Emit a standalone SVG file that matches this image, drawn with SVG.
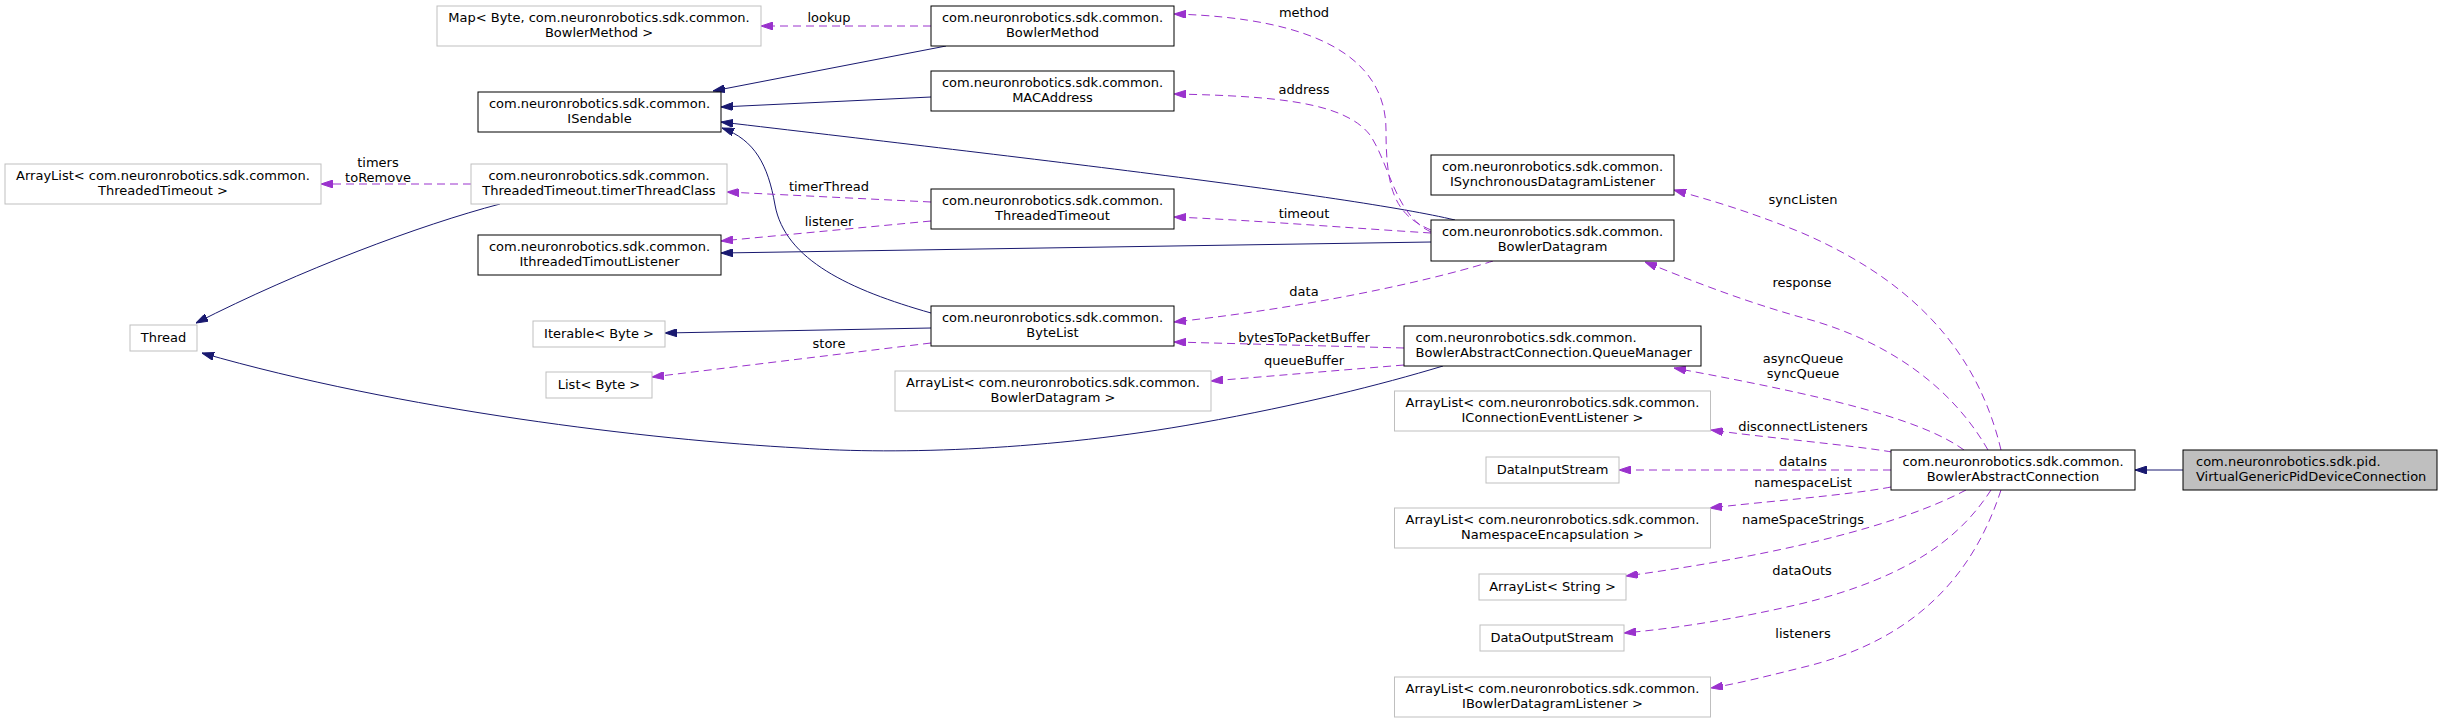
<svg xmlns="http://www.w3.org/2000/svg" width="2443" height="723" viewBox="0 0 2443 723">
<style>
.t{font-family:"DejaVu Sans","Liberation Sans",sans-serif;font-size:13px;fill:#000}
.c{text-anchor:middle}
.n{fill:#fff;stroke:#000;stroke-width:1}
.u{fill:#fff;stroke:#bfbfbf;stroke-width:1}
.h{fill:#bfbfbf;stroke:#000;stroke-width:1}
.e{fill:none;stroke:#191970;stroke-width:1;marker-end:url(#ai)}
.d{fill:none;stroke:#9a32cd;stroke-width:1;stroke-dasharray:8,5;marker-end:url(#ad)}
</style>
<defs>
<marker id="ai" markerUnits="userSpaceOnUse" viewBox="0 0 12 8" refX="12" refY="4" markerWidth="12" markerHeight="8" orient="auto"><path d="M0,0 L12,4 L0,8 z" fill="#191970" stroke="#191970"/></marker>
<marker id="ad" markerUnits="userSpaceOnUse" viewBox="0 0 12 8" refX="12" refY="4" markerWidth="12" markerHeight="8" orient="auto"><path d="M0,0 L12,4 L0,8 z" fill="#9a32cd" stroke="#9a32cd"/></marker>
</defs>
<rect width="2443" height="723" fill="#fff"/>
<g id="connectors">
<path class="e" d="M946,46 L713,91"/>
<path class="e" d="M931,97 L721,107"/>
<path class="e" d="M1455,220 C1350,195 1000,155 721,122"/>
<path class="e" d="M931,313 C850,290 785,260 775,205 C768,165 755,140 722,128"/>
<path class="e" d="M931,328 L665,333"/>
<path class="e" d="M1431,242 L721,253"/>
<path class="e" d="M500,204 C420,225 300,270 196,323"/>
<path class="e" d="M1443,366 C1380,385 1300,405 1200,423 C1050,450 900,455 800,448 C650,440 400,410 202,353"/>
<path class="e" d="M2183,470 L2135,470"/>
<path class="d" d="M931,26 L761,26"/>
<path class="d" d="M1431,230 C1395,215 1386,190 1386,130 C1386,60 1320,18 1174,14"/>
<path class="d" d="M1431,232 C1395,215 1390,165 1370,135 C1345,103 1280,96 1174,94"/>
<path class="d" d="M471,184 L321,184"/>
<path class="d" d="M931,202 L727,192"/>
<path class="d" d="M931,221 L721,241"/>
<path class="d" d="M1431,233 C1350,228 1250,220 1174,217"/>
<path class="d" d="M2001,450 C1975,340 1900,275 1800,232 C1745,210 1710,200 1674,190"/>
<path class="d" d="M1988,450 C1945,375 1870,335 1800,317 C1740,300 1690,280 1645,262"/>
<path class="d" d="M1493,261 C1450,275 1330,305 1174,322"/>
<path class="d" d="M1404,348 L1174,342"/>
<path class="d" d="M1404,365 L1211,381"/>
<path class="d" d="M931,343 L652,377"/>
<path class="d" d="M1964,450 C1920,418 1820,395 1674,368"/>
<path class="d" d="M1892,452 C1850,445 1760,437 1711,430"/>
<path class="d" d="M1891,470 L1619,470"/>
<path class="d" d="M1891,487 C1850,495 1760,502 1710,508"/>
<path class="d" d="M1966,490 C1900,525 1780,555 1626,576"/>
<path class="d" d="M1991,490 C1965,530 1920,575 1800,604 C1740,618 1680,628 1624,633"/>
<path class="d" d="M2001,490 C1975,570 1920,640 1800,668 C1760,678 1735,684 1711,688"/>
<g class="t c">
<text x="829" y="21.5">lookup</text>
<text x="1304" y="16.5">method</text>
<text x="1304" y="93.5">address</text>
<text x="378" y="166.5">timers</text>
<text x="378" y="181.5">toRemove</text>
<text x="829" y="190.5">timerThread</text>
<text x="1304" y="217.5">timeout</text>
<text x="829" y="225.5">listener</text>
<text x="1803" y="203.5">syncListen</text>
<text x="1802" y="286.5">response</text>
<text x="1304" y="295.5">data</text>
<text x="1304" y="341.5">bytesToPacketBuffer</text>
<text x="829" y="347.5">store</text>
<text x="1304" y="364.5">queueBuffer</text>
<text x="1803" y="362.5">asyncQueue</text>
<text x="1803" y="377.5">syncQueue</text>
<text x="1803" y="430.5">disconnectListeners</text>
<text x="1803" y="465.5">dataIns</text>
<text x="1803" y="486.5">namespaceList</text>
<text x="1803" y="523.5">nameSpaceStrings</text>
<text x="1802" y="574.5">dataOuts</text>
<text x="1803" y="637.5">listeners</text>
</g>
</g>
<g id="map"><rect class="u" x="437" y="6" width="324" height="40"/><text class="t c" x="599" y="21.5">Map&lt; Byte, com.neuronrobotics.sdk.common.</text><text class="t c" x="599" y="36.5">BowlerMethod &gt;</text></g>
<g id="bowlermethod"><rect class="n" x="931" y="6" width="243" height="40"/><text class="t c" x="1052.5" y="21.5">com.neuronrobotics.sdk.common.</text><text class="t c" x="1052.5" y="36.5">BowlerMethod</text></g>
<g id="isendable"><rect class="n" x="478" y="92" width="243" height="40"/><text class="t c" x="599.5" y="107.5">com.neuronrobotics.sdk.common.</text><text class="t c" x="599.5" y="122.5">ISendable</text></g>
<g id="macaddress"><rect class="n" x="931" y="71" width="243" height="40"/><text class="t c" x="1052.5" y="86.5">com.neuronrobotics.sdk.common.</text><text class="t c" x="1052.5" y="101.5">MACAddress</text></g>
<g id="arraylist_timeout"><rect class="u" x="5" y="164" width="316" height="40"/><text class="t c" x="163" y="179.5">ArrayList&lt; com.neuronrobotics.sdk.common.</text><text class="t c" x="163" y="194.5">ThreadedTimeout &gt;</text></g>
<g id="timerthreadclass"><rect class="u" x="471" y="164" width="256" height="40"/><text class="t c" x="599" y="179.5">com.neuronrobotics.sdk.common.</text><text class="t c" x="599" y="194.5">ThreadedTimeout.timerThreadClass</text></g>
<g id="threadedtimeout"><rect class="n" x="931" y="189" width="243" height="40"/><text class="t c" x="1052.5" y="204.5">com.neuronrobotics.sdk.common.</text><text class="t c" x="1052.5" y="219.5">ThreadedTimeout</text></g>
<g id="ithreadedtimoutlistener"><rect class="n" x="478" y="235" width="243" height="40"/><text class="t c" x="599.5" y="250.5">com.neuronrobotics.sdk.common.</text><text class="t c" x="599.5" y="265.5">IthreadedTimoutListener</text></g>
<g id="isynchronous"><rect class="n" x="1431" y="155" width="243" height="40"/><text class="t c" x="1552.5" y="170.5">com.neuronrobotics.sdk.common.</text><text class="t c" x="1552.5" y="185.5">ISynchronousDatagramListener</text></g>
<g id="bowlerdatagram"><rect class="n" x="1431" y="220" width="243" height="41"/><text class="t c" x="1552.5" y="235.5">com.neuronrobotics.sdk.common.</text><text class="t c" x="1552.5" y="250.5">BowlerDatagram</text></g>
<g id="thread"><rect class="u" x="130" y="325" width="67" height="26"/><text class="t c" x="163.5" y="342">Thread</text></g>
<g id="iterable"><rect class="u" x="533" y="321" width="132" height="26"/><text class="t c" x="599" y="338">Iterable&lt; Byte &gt;</text></g>
<g id="bytelist"><rect class="n" x="931" y="306" width="243" height="40"/><text class="t c" x="1052.5" y="321.5">com.neuronrobotics.sdk.common.</text><text class="t c" x="1052.5" y="336.5">ByteList</text></g>
<g id="listbyte"><rect class="u" x="546" y="372" width="106" height="26"/><text class="t c" x="599" y="389">List&lt; Byte &gt;</text></g>
<g id="arraylist_datagram"><rect class="u" x="895" y="371" width="316" height="40"/><text class="t c" x="1053" y="386.5">ArrayList&lt; com.neuronrobotics.sdk.common.</text><text class="t c" x="1053" y="401.5">BowlerDatagram &gt;</text></g>
<g id="queuemanager"><rect class="n" x="1404" y="326" width="297" height="40"/><text class="t" x="1415.5" y="341.5">com.neuronrobotics.sdk.common.</text><text class="t" x="1415.5" y="356.5">BowlerAbstractConnection.QueueManager</text></g>
<g id="arraylist_connlistener"><rect class="u" x="1394.5" y="391" width="316" height="40"/><text class="t c" x="1552.5" y="406.5">ArrayList&lt; com.neuronrobotics.sdk.common.</text><text class="t c" x="1552.5" y="421.5">IConnectionEventListener &gt;</text></g>
<g id="datainputstream"><rect class="u" x="1486" y="457" width="133" height="26"/><text class="t c" x="1552.5" y="474">DataInputStream</text></g>
<g id="bowlerabstractconnection"><rect class="n" x="1891" y="450" width="244" height="40"/><text class="t c" x="2013" y="465.5">com.neuronrobotics.sdk.common.</text><text class="t c" x="2013" y="480.5">BowlerAbstractConnection</text></g>
<g id="virtualgenericpid"><rect class="h" x="2183" y="450" width="254" height="40"/><text class="t" x="2196" y="465.5">com.neuronrobotics.sdk.pid.</text><text class="t" x="2196" y="480.5">VirtualGenericPidDeviceConnection</text></g>
<g id="arraylist_namespace"><rect class="u" x="1394.5" y="508" width="316" height="40"/><text class="t c" x="1552.5" y="523.5">ArrayList&lt; com.neuronrobotics.sdk.common.</text><text class="t c" x="1552.5" y="538.5">NamespaceEncapsulation &gt;</text></g>
<g id="arraylist_string"><rect class="u" x="1479" y="574" width="147" height="26"/><text class="t c" x="1552.5" y="591">ArrayList&lt; String &gt;</text></g>
<g id="dataoutputstream"><rect class="u" x="1480" y="625" width="144" height="26"/><text class="t c" x="1552" y="642">DataOutputStream</text></g>
<g id="arraylist_dglistener"><rect class="u" x="1394.5" y="677" width="316" height="40"/><text class="t c" x="1552.5" y="692.5">ArrayList&lt; com.neuronrobotics.sdk.common.</text><text class="t c" x="1552.5" y="707.5">IBowlerDatagramListener &gt;</text></g>
</svg>
